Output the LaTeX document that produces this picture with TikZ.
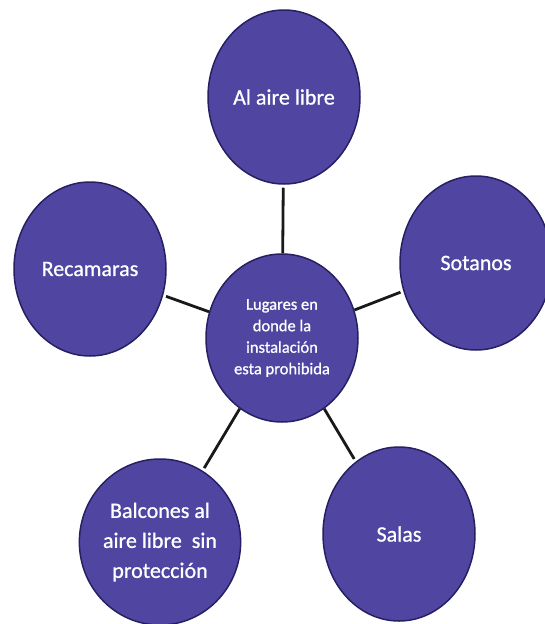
\documentclass[tikz,border=0pt]{standalone}
\usepackage{fontspec}
\setmainfont{Carlito}
\newfontfamily\bubblefont[FakeBold=0.8]{Carlito}
\usetikzlibrary{shapes.geometric}
\definecolor{bubblefill}{RGB}{80,70,162}
\definecolor{bubbleline}{RGB}{38,32,98}
\begin{document}
\begin{tikzpicture}[x=1pt,y=-1pt,
  bubble/.style={ellipse,draw=bubbleline,line width=1.5pt,fill=bubblefill,text=white,
    minimum width=152pt,minimum height=174pt,inner sep=0pt,align=center,
    font=\bubblefont\fontsize{22}{30}\selectfont},
  hub/.style={bubble,minimum height=168pt,font=\bubblefont\fontsize{16.5}{21.5}\selectfont},
  link/.style={line width=2.8pt,black!90,shorten >=3pt}]
\useasboundingbox (0,0) rectangle (545,624);
%%% center
\node[hub] (hub) at (282,338) {Lugares en\\donde la\\instalación\\esta prohibida};
%%% around
\node[bubble] (aire) at (284,97) {Al aire libre};
\node[bubble] (recamaras) at (90,269) {Recamaras};
\node[bubble] (sotanos) at (476,263) {Sotanos};
\node[bubble] (salas) at (399,534) {Salas};
\node[bubble,minimum width=146pt,minimum height=166pt] (balcones) at (160,542) {Balcones al\\aire libre\ \ sin\\protección};
%%% links
\draw[link] (hub) -- (aire);
\draw[link] (hub) -- (recamaras);
\draw[link] (hub) -- (sotanos);
\draw[link] (hub) -- (salas);
\draw[link] (hub) -- (balcones);
\end{tikzpicture}
\end{document}
